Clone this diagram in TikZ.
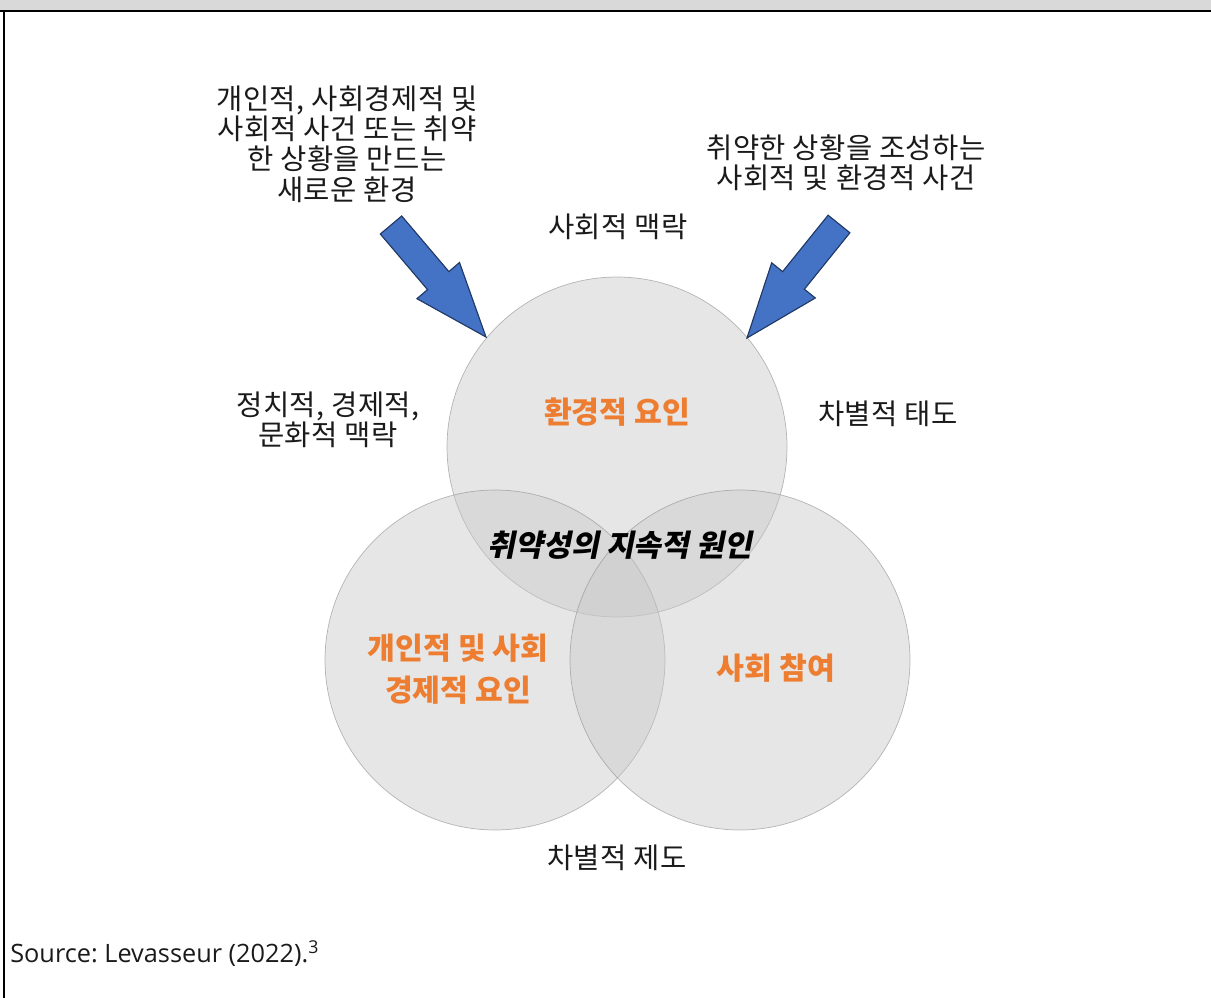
\documentclass[tikz,border=0pt]{standalone}
\usepackage{fontspec}
\setmainfont{Noto Sans CJK KR}
\newfontfamily\srcfont{Open Sans}
\newfontfamily\cjkbi[FakeSlant=0.2]{Noto Sans CJK KR}
\frenchspacing
\definecolor{bandgray}{HTML}{D9D9D9}
\definecolor{vennfill}{HTML}{C8C8C8}
\definecolor{vennline}{HTML}{8C8C8C}
\definecolor{orangetxt}{HTML}{ED7D31}
\definecolor{arrowblue}{HTML}{4472C4}
\definecolor{arrowedge}{HTML}{1F3864}
\definecolor{txt}{HTML}{1A1A1A}
\tikzset{
  venn/.style={fill=vennfill, fill opacity=0.45, draw=vennline, draw opacity=0.6, line width=0.5pt},
  blockarrow/.style={fill=arrowblue, draw=arrowedge, line width=0.8pt, line join=miter},
  label/.style={font=\fontsize{20.3}{21.5}\selectfont\addfontfeature{LetterSpace=1.5}, text=txt, align=center, inner sep=0pt},
  keylabel/.style={font=\fontsize{21.5}{30}\selectfont\bfseries, text=orangetxt, align=center, inner sep=0pt},
}
\begin{document}
\begin{tikzpicture}[x=0.025cm,y=-0.025cm]
\useasboundingbox (0,0) rectangle (1211,998);
% frame
\fill[bandgray] (0,0) rectangle (1211,10.5);
\draw[line width=1.6pt] (0,11) -- (1211,11);
\draw[line width=1.6pt] (4,11) -- (4,998);
% circles
\path[venn] (617,447) circle[radius=170];
\path[venn] (495,660) circle[radius=170];
\path[venn] (740,660) circle[radius=170];
% block arrows
\draw[blockarrow] (380.3,234) -- (401.7,216) -- (448.9,271.6) -- (459.5,262.5) -- (486,337) -- (416.9,298.7) -- (427.5,289.6) -- cycle;
\draw[blockarrow] (828.1,215.2) -- (849.9,232.8) -- (804.4,289.2) -- (815.3,298) -- (747,338) -- (771.7,262.8) -- (782.6,271.6) -- cycle;
% texts
\node[label] (newenv) at (347,144) {개인적, 사회경제적 및\\사회적 사건 또는 취약\\한 상황을 만드는\\새로운 환경};
\node[label] (events) at (846,163) {취약한 상황을 조성하는\\사회적 및 환경적 사건};
\node[label] (social) at (618,227) {사회적 맥락};
\node[label] (polit) at (328,420) {정치적, 경제적,\\문화적 맥락};
\node[label] (attit) at (888,414) {차별적 태도};
\node[label] (instit) at (617,858) {차별적 제도};
\node[keylabel] (envf) at (617,412) {환경적 요인};
\node[keylabel] (persf) at (458,669) {개인적 및 사회\\경제적 요인};
\node[keylabel] (part) at (776,668) {사회 참여};
\node[font=\fontsize{21.5}{22}\selectfont\cjkbi\bfseries, text=black, inner sep=0pt] (cause) at (620,545) {취약성의 지속적 원인};
\node[font=\fontsize{18}{20}\selectfont\srcfont, text=txt, anchor=base west, inner sep=0pt] (source) at (10,962) {Source: Levasseur (2022).\textsuperscript{3}};
\end{tikzpicture}
\end{document}
